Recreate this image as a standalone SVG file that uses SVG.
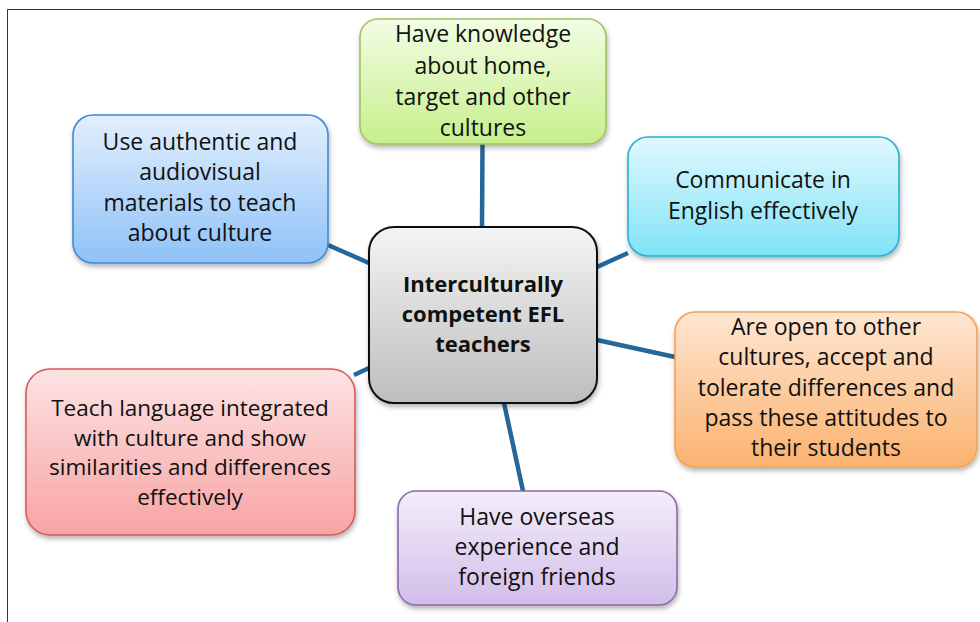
<svg xmlns="http://www.w3.org/2000/svg" width="980" height="622" viewBox="0 0 980 622">
<style>
.t{font-family:"Open Sans","Noto Sans","Liberation Sans",sans-serif;font-size:23px;fill:#111;text-anchor:middle}
.b{font-weight:bold;font-size:22px}
.s{font-size:22.5px}
.box{stroke-width:1.6}
.conn{stroke:#23679b;stroke-width:4.5;fill:none;stroke-linecap:butt}
</style>
<defs>
<filter id="sh" x="-10%" y="-10%" width="120%" height="130%"><feDropShadow dx="1" dy="3" stdDeviation="2.5" flood-color="#000" flood-opacity="0.3"/></filter>
<linearGradient id="gG" x1="0" y1="0" x2="0" y2="1"><stop offset="0" stop-color="#f2fde4"/><stop offset="1" stop-color="#c6ef8c"/></linearGradient>
<linearGradient id="gB" x1="0" y1="0" x2="0" y2="1"><stop offset="0" stop-color="#e3effd"/><stop offset="1" stop-color="#8ec2f8"/></linearGradient>
<linearGradient id="gC" x1="0" y1="0" x2="0" y2="1"><stop offset="0" stop-color="#e2f8fd"/><stop offset="1" stop-color="#7fe3f7"/></linearGradient>
<linearGradient id="gO" x1="0" y1="0" x2="0" y2="1"><stop offset="0" stop-color="#fee6d2"/><stop offset="1" stop-color="#fbb26f"/></linearGradient>
<linearGradient id="gR" x1="0" y1="0" x2="0" y2="1"><stop offset="0" stop-color="#fde3e3"/><stop offset="1" stop-color="#f8a3a3"/></linearGradient>
<linearGradient id="gP" x1="0" y1="0" x2="0" y2="1"><stop offset="0" stop-color="#f3eefa"/><stop offset="1" stop-color="#d3bdea"/></linearGradient>
<linearGradient id="gM" x1="0" y1="0" x2="0" y2="1"><stop offset="0" stop-color="#f4f4f4"/><stop offset="1" stop-color="#bdbdbd"/></linearGradient>
</defs>
<rect width="980" height="622" fill="#fff"/>
<path d="M7.5 622 V9.5 H980" fill="none" stroke="#333" stroke-width="1"/>
<g id="connectors">
<line class="conn" x1="482.5" y1="144" x2="482" y2="228"/>
<line class="conn" x1="328" y1="245" x2="369" y2="263"/>
<line class="conn" x1="628" y1="253" x2="597" y2="267"/>
<line class="conn" x1="597" y1="340" x2="675" y2="357"/>
<line class="conn" x1="354" y1="375" x2="369" y2="368"/>
<line class="conn" x1="504" y1="403" x2="523" y2="491"/>
</g>
<g id="node-knowledge">
<rect class="box" x="360" y="19" width="246" height="125" rx="18" fill="url(#gG)" stroke="#9ec45e" filter="url(#sh)"/>
<text class="t" x="483" y="42">Have knowledge</text>
<text class="t" x="483" y="74">about home,</text>
<text class="t" x="483" y="105">target and other</text>
<text class="t" x="483" y="136">cultures</text>
</g>
<g id="node-materials">
<rect class="box" x="73" y="115" width="255" height="148" rx="20" fill="url(#gB)" stroke="#3f8ad2" filter="url(#sh)"/>
<text class="t" x="200" y="150">Use authentic and</text>
<text class="t" x="200" y="180">audiovisual</text>
<text class="t" x="200" y="211">materials to teach</text>
<text class="t" x="200" y="241">about culture</text>
</g>
<g id="node-communicate">
<rect class="box" x="628" y="137" width="271" height="119" rx="20" fill="url(#gC)" stroke="#22b2d0" filter="url(#sh)"/>
<text class="t" x="763" y="188">Communicate in</text>
<text class="t" x="763" y="219">English effectively</text>
</g>
<g id="node-center">
<rect x="369" y="227" width="228" height="176" rx="25" fill="url(#gM)" stroke="#111" stroke-width="2" filter="url(#sh)"/>
<text class="t b" x="483" y="292">Interculturally</text>
<text class="t b" x="483" y="322">competent EFL</text>
<text class="t b" x="483" y="352">teachers</text>
</g>
<g id="node-open">
<rect class="box" x="675" y="312" width="302" height="155" rx="20" fill="url(#gO)" stroke="#f8a04e" filter="url(#sh)"/>
<text class="t" x="826" y="335">Are open to other</text>
<text class="t" x="826" y="365">cultures, accept and</text>
<text class="t" x="826" y="396">tolerate differences and</text>
<text class="t" x="826" y="426">pass these attitudes to</text>
<text class="t" x="826" y="456">their students</text>
</g>
<g id="node-teach">
<rect class="box" x="26" y="369" width="329" height="166" rx="24" fill="url(#gR)" stroke="#d75a5a" filter="url(#sh)"/>
<text class="t s" x="190" y="416">Teach language integrated</text>
<text class="t s" x="190" y="445.5">with culture and show</text>
<text class="t s" x="190" y="475">similarities and differences</text>
<text class="t s" x="190" y="504.5">effectively</text>
</g>
<g id="node-overseas">
<rect class="box" x="398" y="491" width="279" height="114" rx="18" fill="url(#gP)" stroke="#8a6aaa" filter="url(#sh)"/>
<text class="t" x="537" y="525">Have overseas</text>
<text class="t" x="537" y="555">experience and</text>
<text class="t" x="537" y="585">foreign friends</text>
</g>
</svg>
